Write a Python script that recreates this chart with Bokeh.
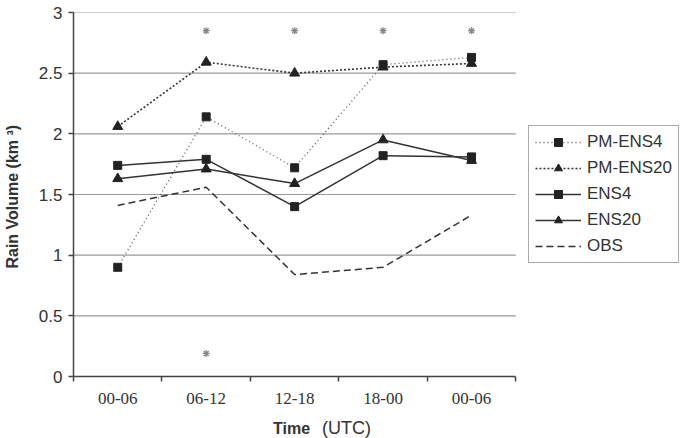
from bokeh.plotting import figure
from bokeh.layouts import column
from bokeh.models import (Range1d, FixedTicker, Legend, LegendItem, Div,
                          ColumnDataSource)
from bokeh.embed import file_html
from bokeh.resources import INLINE

# 6-hour periods (UTC)
periods = ["00-06", "06-12", "12-18", "18-00", "00-06"]
yticks = [0, 0.5, 1, 1.5, 2, 2.5, 3]

# Rain volume (km^3) per period
pm_ens4 = [0.90, 2.14, 1.72, 2.57, 2.63]
pm_ens20 = [2.06, 2.59, 2.50, 2.55, 2.58]
ens4 = [1.74, 1.79, 1.40, 1.82, 1.81]
ens20 = [1.63, 1.71, 1.59, 1.95, 1.78]
obs = [1.41, 1.56, 0.84, 0.90, 1.33]

# significance markers: (period index, value)
star_idx = [1, 2, 3, 4, 1]
star_val = [2.85, 2.85, 2.85, 2.85, 0.19]

n = len(periods)
xpos = [i + 0.5 for i in range(n)]

# The frame also holds the legend on its right; the axis line and the
# grid lines stop at the last band so the data area stays 443 px wide.
FRAME_W, DATA_W = 608, 443
x_end = n * FRAME_W / DATA_W

p = figure(width=680, height=418, output_backend="svg", toolbar_location=None,
           x_range=Range1d(0, x_end), y_range=Range1d(0, 3),
           min_border_left=72, min_border_right=0, min_border_top=12,
           min_border_bottom=42)
p.outline_line_color = None
p.background_fill_color = "white"
p.border_fill_color = "white"

# y axis
p.yaxis.ticker = FixedTicker(ticks=yticks)
p.yaxis.axis_line_color = "#444444"
p.yaxis.axis_line_width = 1.5
p.yaxis.major_tick_line_color = "#444444"
p.yaxis.major_tick_line_width = 1.5
p.yaxis.major_tick_out = 5
p.yaxis.major_tick_in = 0
p.yaxis.minor_tick_line_color = None
p.yaxis.major_label_text_font = "Liberation Sans"
p.yaxis.major_label_text_font_size = "17px"
p.yaxis.major_label_text_color = "#333333"
p.yaxis.major_label_standoff = 6
p.yaxis.axis_label = "Rain Volume (km  ³)"
p.yaxis.axis_label_text_font = "Liberation Sans"
p.yaxis.axis_label_text_font_size = "16px"
p.yaxis.axis_label_text_font_style = "bold"
p.yaxis.axis_label_text_color = "#333333"
p.yaxis.axis_label_standoff = 15

# x axis: labels at band centres, ticks at band edges
p.xaxis.bounds = (0, n)
p.xaxis.ticker = FixedTicker(ticks=xpos, minor_ticks=list(range(n + 1)))
p.xaxis.major_label_overrides = {x: lab for x, lab in zip(xpos, periods)}
p.xaxis.axis_line_color = "#444444"
p.xaxis.axis_line_width = 1.5
p.xaxis.major_tick_line_color = None
p.xaxis.major_tick_out = 0
p.xaxis.major_tick_in = 0
p.xaxis.minor_tick_line_color = "#444444"
p.xaxis.minor_tick_line_width = 1.5
p.xaxis.minor_tick_out = 5
p.xaxis.minor_tick_in = 0
p.xaxis.major_label_text_font = "Liberation Serif"
p.xaxis.major_label_text_font_size = "17px"
p.xaxis.major_label_text_color = "#333333"
p.xaxis.major_label_standoff = 11

# horizontal grid lines, limited to the data bands
p.xgrid.grid_line_color = None
p.ygrid.grid_line_color = None
p.segment(x0=[0] * len(yticks), y0=yticks, x1=[n] * len(yticks), y1=yticks,
          line_color="#9a9a9a", line_width=1.2, level="underlay")

line_col = "#333333"
mark_col = "#222222"

src = ColumnDataSource(dict(x=xpos, pm4=pm_ens4, pm20=pm_ens20, e4=ens4,
                            e20=ens20, obs=obs))

r_pm4_l = p.line("x", "pm4", source=src, line_color="#555555", line_width=1.3,
                 line_dash="1 3")
r_pm4_m = p.scatter("x", "pm4", source=src, marker="square", size=8,
                    fill_color=mark_col, line_color=mark_col)
r_pm20_l = p.line("x", "pm20", source=src, line_color=line_col, line_width=1.6,
                  line_dash="2 2")
r_pm20_m = p.scatter("x", "pm20", source=src, marker="triangle", size=10,
                     fill_color=mark_col, line_color=mark_col)
r_e4_l = p.line("x", "e4", source=src, line_color=line_col, line_width=1.5)
r_e4_m = p.scatter("x", "e4", source=src, marker="square", size=8,
                   fill_color=mark_col, line_color=mark_col)
r_e20_l = p.line("x", "e20", source=src, line_color=line_col, line_width=1.5)
r_e20_m = p.scatter("x", "e20", source=src, marker="triangle", size=10,
                    fill_color=mark_col, line_color=mark_col)
r_obs_l = p.line("x", "obs", source=src, line_color=line_col, line_width=1.5,
                 line_dash="7 4")

p.scatter([xpos[i] for i in star_idx], star_val, marker="asterisk", size=7,
          line_color="#888888", line_width=1.3)

legend = Legend(items=[
    LegendItem(label="PM-ENS4", renderers=[r_pm4_l, r_pm4_m]),
    LegendItem(label="PM-ENS20", renderers=[r_pm20_l, r_pm20_m]),
    LegendItem(label="ENS4", renderers=[r_e4_l, r_e4_m]),
    LegendItem(label="ENS20", renderers=[r_e20_l, r_e20_m]),
    LegendItem(label="OBS", renderers=[r_obs_l]),
], location=(455, 113))
legend.border_line_color = "#555555"
legend.border_line_width = 1.2
legend.background_fill_color = "white"
legend.label_text_font = "Liberation Sans"
legend.label_text_font_size = "17px"
legend.label_text_color = "#333333"
legend.glyph_width = 46
legend.glyph_height = 20
legend.label_height = 20
legend.spacing = 6
legend.padding = 6
legend.margin = 0
legend.label_standoff = 6
p.add_layout(legend, "center")

# x axis title: bold "Time" followed by regular "(UTC)"
xtitle = Div(text="<b style='font-size:16px'>Time</b>"
                  "<span style='margin-left:12px'>(UTC)</span>",
             width=680, height=20,
             styles={"font-family": "Liberation Sans", "font-size": "18px",
                     "color": "#333333", "padding-left": "273px",
                     "line-height": "20px", "margin": "0"})

layout = column(p, xtitle, spacing=0)

open("out.html", "w").write(file_html(layout, INLINE))
